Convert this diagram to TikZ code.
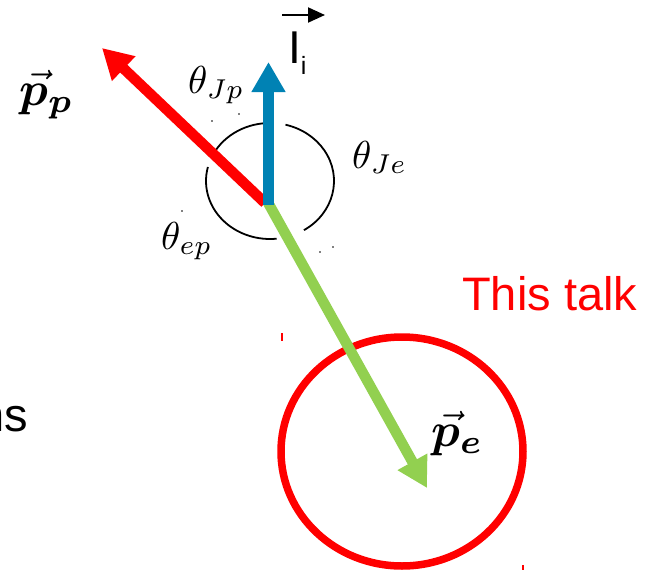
\documentclass[tikz,border=0pt]{standalone}
\usepackage{fontspec}
\usepackage{bm}
\usetikzlibrary{arrows.meta}
\newfontfamily\arialfont{Liberation Sans}
\definecolor{pRed}{RGB}{255,0,0}
\definecolor{jBlue}{RGB}{0,130,180}
\definecolor{eGreen}{RGB}{146,208,80}
\tikzset{
  vecarrow/.style={line width=10.5pt, -{Triangle[length=30pt,width=32pt]}},
  angarc/.style={black, line width=1.8pt},
  mathlbl/.style={inner sep=0pt, anchor=base west},
  sanslbl/.style={inner sep=0pt, anchor=base west, font=\arialfont\fontsize{47}{52}\selectfont},
  speck/.style={fill=black},
}
\begin{document}
\begin{tikzpicture}[x=1pt,y=-1pt]
\useasboundingbox (0,0) rectangle (651,570);
% coordinates
\coordinate (C) at (270,181);
\coordinate (R) at (402,451.5);
\coordinate (Ored) at (265,203);
\coordinate (Ptip) at (102,48);
\coordinate (Oblue) at (268.5,205);
\coordinate (Jtip) at (268.5,62);
\coordinate (Ogreen) at (266,199);
\coordinate (Etip) at (427,488);
\coordinate (Ia) at (282,15);
\coordinate (Ib) at (325,15);
% angle arcs
\draw[angarc] ([shift={(-88:64 and 58)}]C) arc[start angle=-88, end angle=-153, x radius=64, y radius=58];
\draw[angarc] ([shift={(-166:64 and 58)}]C) arc[start angle=-166, end angle=-276, x radius=64, y radius=58];
\draw[angarc] ([shift={(58:64 and 58)}]C) arc[start angle=58, end angle=-76, x radius=64, y radius=58];
% red circle
\draw[pRed, line width=7.5pt] (R) ellipse[x radius=121, y radius=114.5];
% arrows
\draw[vecarrow, eGreen] (Ogreen) -- (Etip);
\draw[vecarrow, pRed] (Ored) -- (Ptip);
\draw[vecarrow, jBlue] (Oblue) -- (Jtip);
% specks and ticks
\draw[pRed, line width=1.2pt] (282,333) -- (282,341);
\draw[pRed, line width=1.2pt] (523,565) -- (523,570);
\foreach \p in {(212,121),(239,114),(182,211),(320,252),(333,247)} \fill[speck] \p circle[radius=0.9];
% labels
\node[mathlbl] (tJp) at (188,93) {\scalebox{3.9}{$\theta_{Jp}$}};
\node[mathlbl] (tJe) at (352,168) {\scalebox{3.9}{$\theta_{Je}$}};
\node[mathlbl] (tep) at (161,249) {\scalebox{3.9}{$\theta_{ep}$}};
\node[mathlbl] (pp) at (19,105) {\scalebox{4.8}{$\vec{\bm{p}}_{\bm{p}}$}};
\node[mathlbl] (pe) at (431,446) {\scalebox{4.8}{$\vec{\bm{p}}_{\bm{e}}$}};
\node[sanslbl, text=pRed] (talk) at (462,310) {This talk};
\node[sanslbl, anchor=base east] (ns) at (28,431) {ns};
\node[inner sep=0pt, anchor=base west, font=\arialfont\fontsize{46}{50}\selectfont] (Ii) at (288,63) {I\raisebox{-12pt}{\fontsize{25}{28}\selectfont i}};
\draw[line width=2pt, -{Triangle[length=17pt,width=15pt]}] (Ia) -- (Ib);
\end{tikzpicture}
\end{document}
